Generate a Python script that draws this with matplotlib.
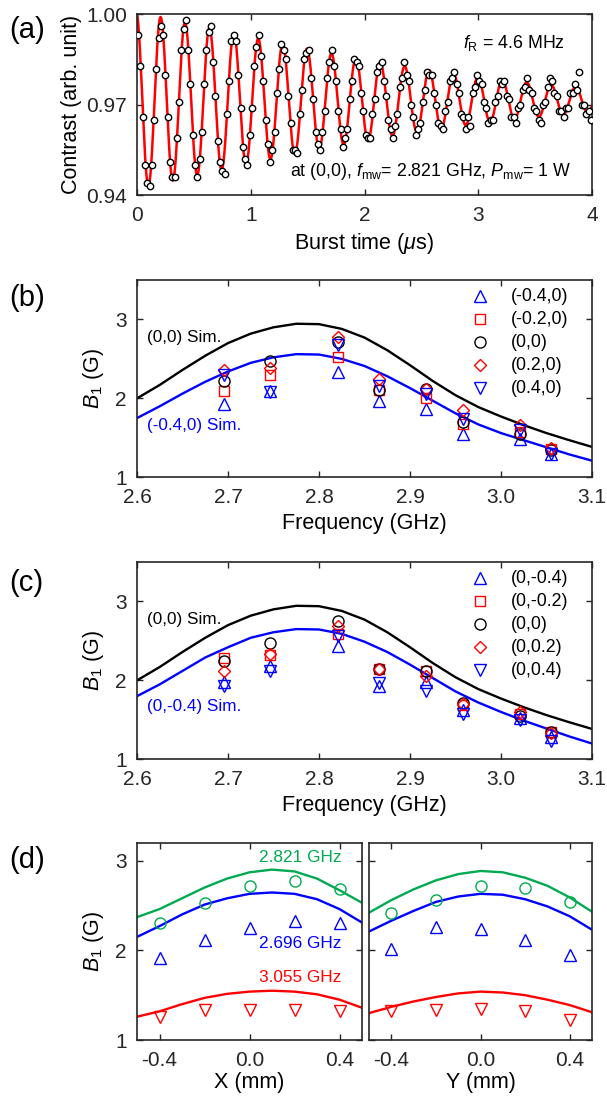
import numpy as np
import matplotlib
matplotlib.use('Agg')
import matplotlib.pyplot as plt

plt.rcParams['font.family'] = ['Liberation Sans', 'DejaVu Sans']
plt.rcParams['mathtext.fontset'] = 'custom'
plt.rcParams['mathtext.rm'] = 'Liberation Sans'
plt.rcParams['mathtext.it'] = 'Liberation Sans:italic'
plt.rcParams['mathtext.bf'] = 'Liberation Sans:bold'
plt.rcParams['axes.unicode_minus'] = False

# ---------------- data ----------------
# (a) Rabi oscillation: burst time (us) and measured contrast
burst_time = np.round(0.01 + np.arange(0, 200) * 0.02, 2)
contrast = [
    0.993, 0.983, 0.966, 0.950, 0.944, 0.943, 0.950, 0.965, 0.982, 0.992,
    0.996, 0.993, 0.980, 0.966, 0.951, 0.946, 0.946, 0.959, 0.971, 0.988,
    0.995, 0.998, 0.988, 0.977, 0.960, 0.950, 0.946, 0.952, 0.961, 0.977,
    0.988, 0.994, 0.996, 0.984, 0.973, 0.958, 0.951, 0.948, 0.947, 0.967,
    0.978, 0.991, 0.993, 0.991, 0.980, 0.969, 0.956, 0.952, 0.950, 0.960,
    0.969, 0.983, 0.989, 0.993, 0.986, 0.978, 0.965, 0.957, 0.951, 0.955,
    0.961, 0.974, 0.982, 0.990, 0.988, 0.985, 0.973, 0.964, 0.955, 0.955,
    0.954, 0.967, 0.975, 0.985, 0.987, 0.988, 0.979, 0.972, 0.961, 0.957,
    0.955, 0.961, 0.968, 0.979, 0.984, 0.988, 0.983, 0.978, 0.968, 0.962,
    0.956, 0.959, 0.962, 0.972, 0.978, 0.985, 0.984, 0.983, 0.974, 0.968,
    0.960, 0.959, 0.959, 0.967, 0.972, 0.981, 0.983, 0.984, 0.978, 0.973,
    0.965, 0.962, 0.959, 0.963, 0.967, 0.976, 0.979, 0.984, 0.980, 0.978,
    0.970, 0.966, 0.960, 0.962, 0.964, 0.971, 0.975, 0.981, 0.980, 0.980,
    0.974, 0.970, 0.964, 0.963, 0.962, 0.968, 0.971, 0.978, 0.979, 0.981,
    0.977, 0.974, 0.967, 0.966, 0.962, 0.966, 0.963, 0.974, 0.976, 0.980,
    0.978, 0.977, 0.971, 0.969, 0.964, 0.965, 0.965, 0.971, 0.973, 0.978,
    0.977, 0.978, 0.973, 0.972, 0.966, 0.966, 0.964, 0.969, 0.970, 0.975,
    0.976, 0.979, 0.975, 0.974, 0.969, 0.968, 0.965, 0.964, 0.970, 0.971,
    0.976, 0.979, 0.978, 0.974, 0.973, 0.968, 0.968, 0.966, 0.969, 0.969,
    0.974, 0.974, 0.977, 0.975, 0.981, 0.970, 0.970, 0.967, 0.968, 0.965,
]
# damped-cosine fit parameters (red curve)
fit_offset, fit_amp, fit_freq, fit_phase, fit_r1, fit_r2 = 0.9715, 0.0293, 4.66, 0.2, 0.2785, 0.0545

def rabi_fit(t):
    return fit_offset + fit_amp * np.exp(-fit_r1 * t - fit_r2 * t**2) * np.cos(2 * np.pi * fit_freq * t + fit_phase)

# (b), (c) measured B1 vs frequency
freq_meas = [2.696, 2.746, 2.821, 2.866, 2.918, 2.958, 3.021, 3.055]
b_xm04 = [1.93, 2.09, 2.33, 1.97, 1.86, 1.55, 1.49, 1.29]
b_xm02 = [2.09, 2.30, 2.53, 2.11, 2.01, 1.67, 1.57, 1.36]
b_x00 = [2.22, 2.475, 2.71, 2.11, 2.12, 1.70, 1.545, 1.34]
b_xp02 = [2.36, 2.38, 2.78, 2.24, 2.12, 1.85, 1.66, 1.37]
b_xp04 = [2.29, 2.08, 2.68, 2.16, 2.06, 1.74, 1.60, 1.30]

c_ym04 = [1.98, 2.18, 2.44, 1.93, 1.98, 1.62, 1.52, 1.28]
c_ym02 = [2.28, 2.32, 2.59, 2.14, 2.12, 1.69, 1.57, 1.34]
c_y00 = [2.24, 2.48, 2.75, 2.14, 2.12, 1.71, 1.55, 1.35]
c_yp02 = [2.12, 2.34, 2.69, 2.15, 2.05, 1.70, 1.60, 1.33]
c_yp04 = [1.93, 2.12, 2.56, 1.97, 1.86, 1.58, 1.50, 1.23]

# simulated B1 vs frequency
freq_sim = np.round(np.linspace(2.6, 3.1, 21), 3)
sim_00 = [2.00, 2.17, 2.36, 2.54, 2.70, 2.82, 2.90, 2.945, 2.94, 2.88, 2.77,
          2.61, 2.42, 2.22, 2.04, 1.89, 1.77, 1.66, 1.56, 1.47, 1.385]
sim_xm04 = [1.75, 1.90, 2.06, 2.21, 2.34, 2.45, 2.52, 2.56, 2.555, 2.50, 2.41,
            2.28, 2.13, 1.97, 1.81, 1.67, 1.56, 1.47, 1.38, 1.29, 1.21]
sim_ym04 = [1.80, 1.95, 2.12, 2.29, 2.42, 2.54, 2.61, 2.65, 2.645, 2.59, 2.49,
            2.36, 2.20, 2.03, 1.86, 1.72, 1.60, 1.49, 1.39, 1.29, 1.20]

# (d) measured B1 vs position
pos_meas = [-0.4, -0.2, 0.0, 0.2, 0.4]
dx_2821 = [2.30, 2.53, 2.72, 2.77, 2.68]
dx_2696 = [1.92, 2.11, 2.25, 2.33, 2.30]
dx_3055 = [1.26, 1.34, 1.34, 1.33, 1.32]
dy_2821 = [2.42, 2.56, 2.72, 2.69, 2.54]
dy_2696 = [2.01, 2.26, 2.24, 2.11, 1.95]
dy_3055 = [1.32, 1.33, 1.35, 1.32, 1.22]

# simulated B1 vs position
pos_sim = np.round(np.linspace(-0.5, 0.5, 11), 2)
sx_2821 = [2.37, 2.46, 2.58, 2.70, 2.80, 2.87, 2.90, 2.88, 2.80, 2.67, 2.53]
sx_2696 = [2.15, 2.27, 2.40, 2.51, 2.58, 2.63, 2.645, 2.63, 2.57, 2.46, 2.31]
sx_3055 = [1.26, 1.32, 1.40, 1.47, 1.515, 1.54, 1.55, 1.54, 1.51, 1.45, 1.36]
sy_2821 = [2.42, 2.56, 2.68, 2.78, 2.85, 2.885, 2.87, 2.81, 2.72, 2.59, 2.43]
sy_2696 = [2.21, 2.33, 2.44, 2.54, 2.60, 2.63, 2.62, 2.57, 2.49, 2.38, 2.23]
sy_3055 = [1.30, 1.37, 1.43, 1.48, 1.52, 1.54, 1.53, 1.50, 1.45, 1.39, 1.31]

# ---------------- style ----------------
AX_COL = '#262626'
BLUE = '#0000FF'
RED = '#FF0000'
GREEN = '#00AA50'
TICK_FS = 15
LAB_FS = 15.5
TXT_FS = 12.8
MS = 8

fig = plt.figure(figsize=(6.07, 11.0), dpi=100)

def style_ax(ax):
    for s in ax.spines.values():
        s.set_color(AX_COL)
        s.set_linewidth(1.2)
    ax.tick_params(direction='in', top=True, right=True, length=4.5, width=1.0,
                   colors=AX_COL, labelsize=TICK_FS, labelcolor='#262626')
    ax.tick_params(axis='x', pad=8)
    ax.tick_params(axis='y', pad=7.2)

# (a)
axa = fig.add_axes([0.2257, 0.8227, 0.7496, 0.1643])
tt = np.linspace(0, 4, 2000)
axa.plot(tt, rabi_fit(tt), color=RED, lw=1.8, zorder=2)
axa.plot(burst_time, contrast, 'o', ms=4.6, mfc='white', mec='black', mew=1.0, zorder=3)
axa.set_xlim(0, 4)
axa.set_ylim(0.94, 1.00)
axa.set_yticks([0.94, 0.97, 1.00])
axa.set_yticklabels(['0.94', '0.97', '1.00'])
axa.set_xticks([0, 1, 2, 3, 4])
axa.set_xlabel(r'Burst time ($\mu$s)', fontsize=LAB_FS, labelpad=4)
axa.set_ylabel('Contrast (arb. unit)', fontsize=LAB_FS, labelpad=3)
style_ax(axa)
axa.text(0.94, 0.84, r'$f_{\rm R}$ = 4.6 MHz', transform=axa.transAxes, ha='right', va='center', fontsize=TXT_FS)
axa.text(0.955, 0.13, r'at (0,0), $f_{\rm mw}$= 2.821 GHz, $P_{\rm mw}$= 1 W', transform=axa.transAxes,
         ha='right', va='center', fontsize=TXT_FS)

MARKERS = ['^', 's', 'o', 'D', 'v']
MCOLS = [BLUE, RED, 'black', RED, BLUE]
MSIZES = [MS, MS - 1, MS, MS - 1.5, MS]

def freq_panel(rect, series, labels, sim2, sim2_label, sim2_y):
    ax = fig.add_axes(rect)
    ax.plot(freq_sim, sim_00, color='black', lw=1.7, zorder=2)
    ax.plot(freq_sim, sim2, color=BLUE, lw=1.7, zorder=2)
    for i, (vals, m, c, s, lab) in enumerate(zip(series, MARKERS, MCOLS, MSIZES, labels)):
        ax.plot(freq_meas, vals, m, ms=s, mfc='none', mec=c, mew=1.0, zorder=3)
        yl = 0.918 - i * 0.1166
        ax.plot([0.754], [yl], m, ms=s, mfc='none', mec=c, mew=1.0, transform=ax.transAxes, clip_on=False)
        ax.text(0.822, yl, lab, transform=ax.transAxes, fontsize=TXT_FS, va='center', ha='left')
    ax.set_xlim(2.6, 3.1)
    ax.set_ylim(1, 3.5)
    ax.set_yticks([1, 2, 3])
    ax.set_xticks([2.6, 2.7, 2.8, 2.9, 3.0, 3.1])
    ax.set_xticklabels(['2.6', '2.7', '2.8', '2.9', '3.0', '3.1'])
    ax.set_xlabel('Frequency (GHz)', fontsize=LAB_FS, labelpad=4)
    ax.set_ylabel(r'$B_1$ (G)', fontsize=LAB_FS, labelpad=7)
    style_ax(ax)
    ax.text(2.611, 2.775, '(0,0) Sim.', color='black', fontsize=12.3, va='center')
    ax.text(2.611, sim2_y, sim2_label, color=BLUE, fontsize=12.3, va='center')
    return ax

freq_panel([0.2257, 0.5661, 0.7496, 0.1794], [b_xm04, b_xm02, b_x00, b_xp02, b_xp04],
           ['(-0.4,0)', '(-0.2,0)', '(0,0)', '(0.2,0)', '(0.4,0)'], sim_xm04, '(-0.4,0) Sim.', 1.655)
freq_panel([0.2257, 0.3097, 0.7496, 0.1794], [c_ym04, c_ym02, c_y00, c_yp02, c_yp04],
           ['(0,-0.4)', '(0,-0.2)', '(0,0)', '(0,0.2)', '(0,0.4)'], sim_ym04, '(0,-0.4) Sim.', 1.67)

def pos_panel(rect, s1, s2, s3, m1, m2, m3, xlabel, left):
    ax = fig.add_axes(rect)
    ax.plot(pos_sim, s1, color=GREEN, lw=1.7)
    ax.plot(pos_sim, s2, color=BLUE, lw=1.7)
    ax.plot(pos_sim, s3, color=RED, lw=1.7)
    ax.plot(pos_meas, m1, 'o', ms=MS, mfc='none', mec=GREEN, mew=1.0)
    ax.plot(pos_meas, m2, '^', ms=MS, mfc='none', mec=BLUE, mew=1.0)
    ax.plot(pos_meas, m3, 'v', ms=MS, mfc='none', mec=RED, mew=1.0)
    ax.set_xlim(-0.5, 0.5)
    ax.set_ylim(1, 3.2)
    ax.set_xticks([-0.4, 0.0, 0.4])
    ax.set_xticklabels(['-0.4', '0.0', '0.4'])
    ax.set_yticks([1, 2, 3])
    ax.set_xlabel(xlabel, fontsize=LAB_FS, labelpad=1.5)
    style_ax(ax)
    if left:
        ax.set_ylabel(r'$B_1$ (G)', fontsize=LAB_FS, labelpad=7)
        ax.text(0.41, 3.03, '2.821 GHz', color=GREEN, fontsize=12.4, ha='right', va='center')
        ax.text(0.41, 2.08, '2.696 GHz', color=BLUE, fontsize=12.4, ha='right', va='center')
        ax.text(0.41, 1.70, '3.055 GHz', color=RED, fontsize=12.4, ha='right', va='center')
    else:
        ax.set_yticklabels([])
    return ax

pos_panel([0.2257, 0.0545, 0.3707, 0.1794], sx_2821, sx_2696, sx_3055, dx_2821, dx_2696, dx_3055, 'X (mm)', True)
pos_panel([0.6079, 0.0545, 0.3674, 0.1794], sy_2821, sy_2696, sy_3055, dy_2821, dy_2696, dy_3055, 'Y (mm)', False)

for lab, y in [('(a)', 1100 - 30), ('(b)', 1100 - 298), ('(c)', 1100 - 583), ('(d)', 1100 - 860)]:
    fig.text(9 / 607, y / 1100, lab, fontsize=21, ha='left', va='center')

fig.savefig('out.png', dpi=100)
